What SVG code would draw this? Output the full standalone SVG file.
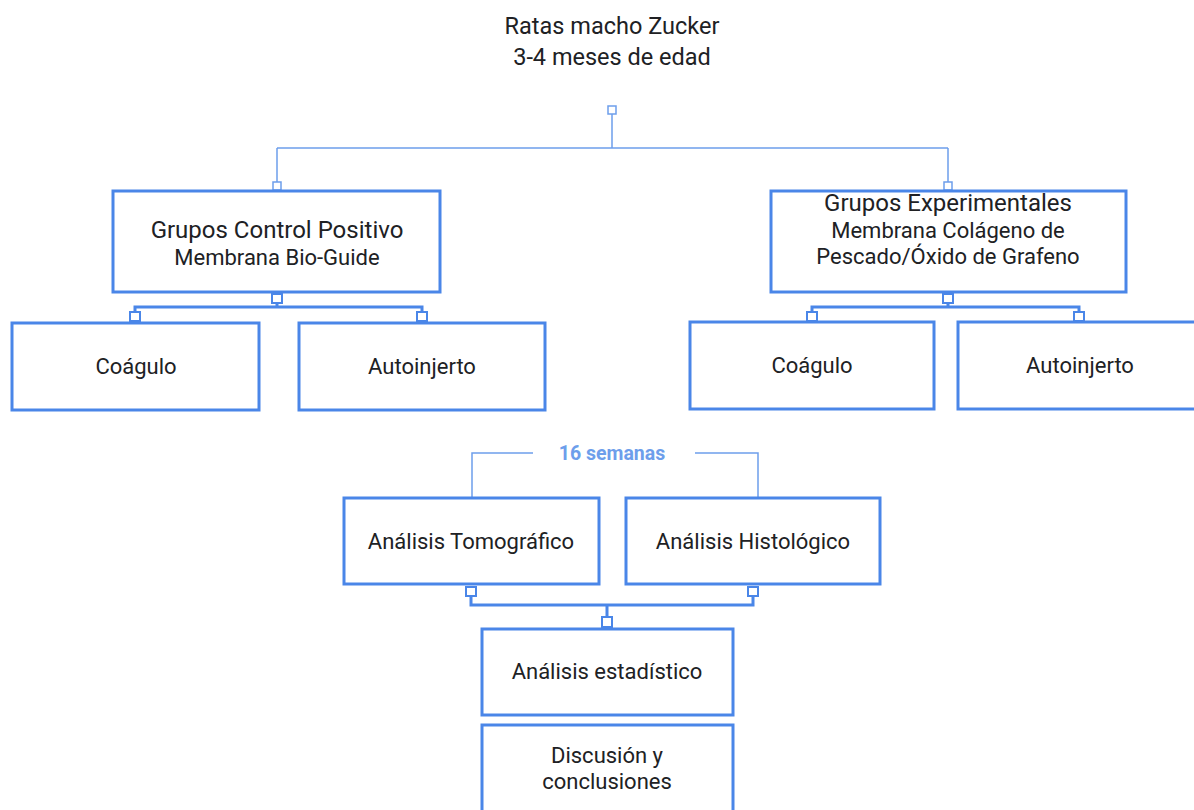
<svg xmlns="http://www.w3.org/2000/svg" width="1194" height="810" viewBox="0 0 1194 810">
<style>
.box{fill:#fff;stroke:#4a86e8;stroke-width:3}
.t{font-family:Roboto,"Liberation Sans",sans-serif;fill:#202124;text-anchor:middle}
.thin{fill:none;stroke:#6d9eeb;stroke-width:1.5}
.thick{fill:none;stroke:#4a86e8;stroke-width:3}
.sq{fill:#fff;stroke:#4a86e8;stroke-width:2}
.sqt{fill:#fff;stroke:#6d9eeb;stroke-width:1.5}
</style>
<rect width="1194" height="810" fill="#fff"/>
<g id="connectors">
<path class="thin" d="M612 114V148M277 148H948M277 148V182M948 148V182"/>
<rect class="sqt" x="608" y="106" width="8" height="8"/>
<rect class="sqt" x="273" y="182" width="8" height="8"/>
<rect class="sqt" x="944" y="182" width="8" height="8"/>
<path class="thick" d="M277 303V307M135 312V307H422V312"/>
<rect class="sq" x="272" y="294" width="10" height="9"/>
<rect class="sq" x="130" y="312" width="10" height="9"/>
<rect class="sq" x="417" y="312" width="10" height="9"/>
<path class="thick" d="M948 303V307M812 312V307H1079V312"/>
<rect class="sq" x="943" y="294" width="10" height="9"/>
<rect class="sq" x="807" y="312" width="10" height="9"/>
<rect class="sq" x="1074" y="312" width="10" height="9"/>
<path class="thin" d="M472 497V453H533M695 453H758V497"/>
<path class="thick" d="M471 597V605H753V597M607 605V617"/>
<rect class="sq" x="466" y="587" width="10" height="9"/>
<rect class="sq" x="748" y="587" width="10" height="9"/>
<rect class="sq" x="602" y="617" width="10" height="10"/>
</g>
<g id="title">
<text class="t" x="612" y="34" font-size="23.5">Ratas macho Zucker</text>
<text class="t" x="612" y="65" font-size="23.5">3-4 meses de edad</text>
</g>
<g id="control">
<rect class="box" x="113" y="191" width="327" height="101"/>
<text class="t" x="277" y="238" font-size="24">Grupos Control Positivo</text>
<text class="t" x="277" y="265" font-size="22">Membrana Bio-Guide</text>
</g>
<g id="experimental">
<rect class="box" x="771" y="191" width="355" height="101"/>
<text class="t" x="948" y="211" font-size="24">Grupos Experimentales</text>
<text class="t" x="948" y="238" font-size="22">Membrana Colágeno de</text>
<text class="t" x="948" y="264" font-size="22">Pescado/Óxido de Grafeno</text>
</g>
<g id="coagulo1">
<rect class="box" x="12" y="323" width="247" height="87"/>
<text class="t" x="136" y="374" font-size="22">Coágulo</text>
</g>
<g id="autoinjerto1">
<rect class="box" x="299" y="323" width="246" height="87"/>
<text class="t" x="422" y="374" font-size="22">Autoinjerto</text>
</g>
<g id="coagulo2">
<rect class="box" x="690" y="322" width="244" height="87"/>
<text class="t" x="812" y="373" font-size="22">Coágulo</text>
</g>
<g id="autoinjerto2">
<rect class="box" x="958" y="322" width="250" height="87"/>
<text class="t" x="1080" y="373" font-size="22">Autoinjerto</text>
</g>
<g id="semanas">
<text x="612" y="460" font-size="19.5" font-weight="bold" fill="#6d9eeb" text-anchor="middle" font-family="Roboto,'Liberation Sans',sans-serif">16 semanas</text>
</g>
<g id="tomografico">
<rect class="box" x="344" y="498" width="255" height="86"/>
<text class="t" x="471" y="549" font-size="22">Análisis Tomográfico</text>
</g>
<g id="histologico">
<rect class="box" x="626" y="498" width="254" height="86"/>
<text class="t" x="753" y="549" font-size="22">Análisis Histológico</text>
</g>
<g id="estadistico">
<rect class="box" x="482" y="629" width="251" height="86"/>
<text class="t" x="607" y="679" font-size="22">Análisis estadístico</text>
</g>
<g id="discusion">
<rect class="box" x="482" y="725" width="251" height="95"/>
<text class="t" x="607" y="763" font-size="22">Discusión y</text>
<text class="t" x="607" y="789" font-size="22">conclusiones</text>
</g>
</svg>
